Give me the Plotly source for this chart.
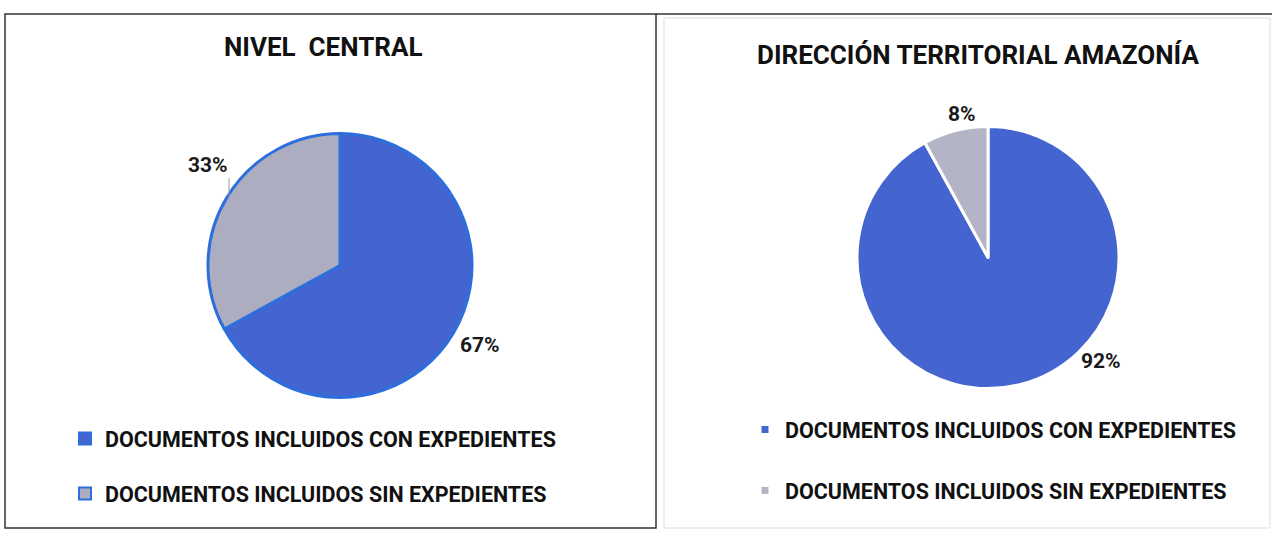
import plotly.graph_objects as go

# data
categories = ["DOCUMENTOS INCLUIDOS CON EXPEDIENTES", "DOCUMENTOS INCLUIDOS SIN EXPEDIENTES"]
nivel_central = [67, 33]
amazonia = [92, 8]
titles = ["NIVEL\u00a0 CENTRAL", "DIRECCIÓN TERRITORIAL AMAZONÍA"]

W, H = 1272, 536
FONT = "Roboto"
BLUE = "#4465d0"
EDGE = "#2c6fdc"
GRAY_L = "#adadc2"
GRAY_R = "#b3b5c6"


def px(x):
    return x / W


def py(y):
    return 1 - y / H


fig = go.Figure()

# left pie
fig.add_trace(go.Pie(
    values=nivel_central, labels=categories, sort=False, direction="clockwise",
    marker=dict(colors=[BLUE, GRAY_L], line=dict(color=EDGE, width=3)),
    textinfo="none", hoverinfo="label+percent", showlegend=False,
    domain=dict(x=[px(208), px(472)], y=[py(398), py(133)])
))

# right pie
fig.add_trace(go.Pie(
    values=amazonia, labels=categories, sort=False, direction="clockwise",
    marker=dict(colors=[BLUE, GRAY_R], line=dict(color="white", width=3)),
    textinfo="none", hoverinfo="label+percent", showlegend=False,
    domain=dict(x=[px(857), px(1119)], y=[py(389), py(126)])
))

# legend entries (one group per item so the rows can be spaced out)
for name, col in zip(categories, [BLUE, GRAY_L]):
    fig.add_trace(go.Scatter(
        x=[None], y=[None], mode="markers", name=name, legendgroup="l_" + name,
        marker=dict(symbol="square", size=12, color=col, line=dict(color=EDGE, width=2)),
        legend="legend"
    ))
for name, col in zip(categories, [BLUE, GRAY_R]):
    fig.add_trace(go.Scatter(
        x=[None], y=[None], mode="markers", name=name, legendgroup="r_" + name,
        marker=dict(symbol="square", size=7, color=col),
        legend="legend2"
    ))

# percentage labels
label_pos = [(208, 165), (480, 345), (962, 114), (1101, 361)]
label_vals = [nivel_central[1], nivel_central[0], amazonia[1], amazonia[0]]
for (lx, ly), v in zip(label_pos, label_vals):
    fig.add_annotation(x=px(lx), y=py(ly), xref="paper", yref="paper", text=f"<b>{v}%</b>",
                       xanchor="center", yanchor="middle", showarrow=False,
                       font=dict(family=FONT, size=21, color="#1a1a1a"))
# leader line for 33%
fig.add_shape(type="line", xref="paper", yref="paper", x0=px(229), y0=py(178), x1=px(229), y1=py(198),
              line=dict(color="#999999", width=1))

# titles
fig.add_annotation(x=px(323), y=py(47), xref="paper", yref="paper", text=f"<b>{titles[0]}</b>",
                   xanchor="center", yanchor="middle", showarrow=False,
                   font=dict(family=FONT, size=26, color="#111111"))
fig.add_annotation(x=px(978), y=py(55), xref="paper", yref="paper", text=f"<b>{titles[1]}</b>",
                   xanchor="center", yanchor="middle", showarrow=False,
                   font=dict(family=FONT, size=26, color="#111111"))

# panel borders
fig.add_shape(type="rect", xref="paper", yref="paper", x0=px(5), y0=py(528), x1=px(656), y1=py(14),
              line=dict(color="#333333", width=1.5))
fig.add_shape(type="rect", xref="paper", yref="paper", x0=px(664), y0=py(528), x1=px(1270), y1=py(18),
              line=dict(color="#dddddd", width=1))
fig.add_shape(type="line", xref="paper", yref="paper", x0=px(656), y0=py(14), x1=px(1272), y1=py(14),
              line=dict(color="#333333", width=1.5))

fig.update_layout(
    width=W, height=H, autosize=False,
    margin=dict(l=0, r=0, t=0, b=0),
    paper_bgcolor="white", plot_bgcolor="white",
    xaxis=dict(visible=False), yaxis=dict(visible=False),
    font=dict(family=FONT, color="#111111"),
    legend=dict(x=px(65), y=py(418), xanchor="left", yanchor="top",
                traceorder="grouped", tracegroupgap=24,
                font=dict(family=FONT, size=21.5, color="#111111", weight="bold"), bgcolor="rgba(0,0,0,0)"),
    legend2=dict(x=px(745), y=py(409), xanchor="left", yanchor="top",
                 traceorder="grouped", tracegroupgap=30,
                 font=dict(family=FONT, size=21.5, color="#111111", weight="bold"), bgcolor="rgba(0,0,0,0)"),
)

fig.write_html("out.html", config={"responsive": False, "displayModeBar": False},
               post_script="document.body.style.margin='0';document.body.style.overflow='hidden';")
